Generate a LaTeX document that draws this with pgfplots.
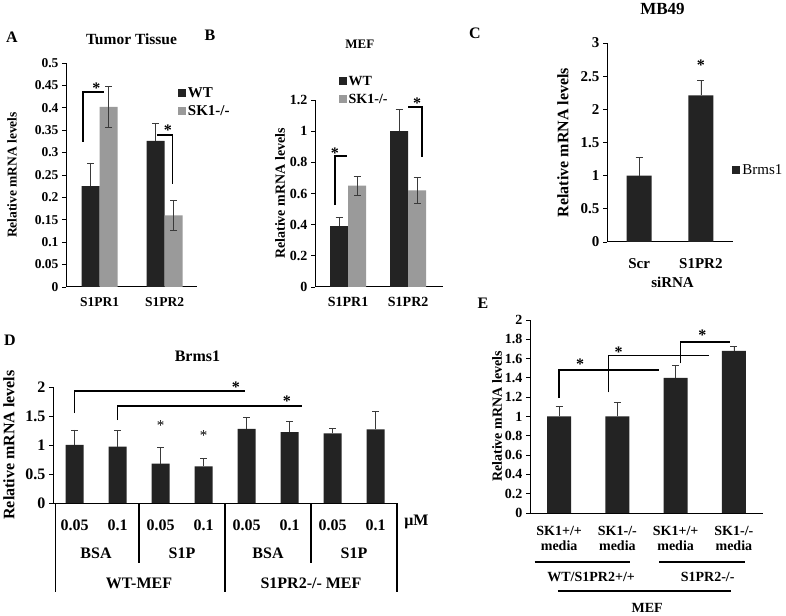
\documentclass[border=0pt]{standalone}
\usepackage{pgfplots}
\pgfplotsset{compat=1.18}
\usepackage{fontspec}
\setmainfont{Liberation Serif}
\definecolor{dk}{HTML}{232323}
\definecolor{gr}{HTML}{9A9A9A}
\definecolor{eb}{HTML}{3A3A3A}
\newcommand\fs[2]{\bfseries\fontsize{#1bp}{#2bp}\selectfont}
\tikzset{br/.style={line width=1.5bp, black},
 st/.style={font=\fs{16}{16}, inner sep=0pt},
 lt/.style={font=\fs{16}{16}, inner sep=0pt}}
\pgfplotsset{
 panel/.style={
  scale only axis, anchor=south west, axis lines=left,
  axis line style={-, line width=1bp, black},
  ymin=0, ybar,
  tick align=outside, major tick length=4bp,
  ytick style={line width=0.8bp, black},
  xtick style={draw=none},
  scaled y ticks=false,
  /pgf/number format/assume math mode=true,
  yticklabel style={/pgf/number format/fixed},
  clip=false,
  legend style={draw=none, fill=none},
  legend cell align=left,
  legend image code/.code={\fill[##1] (0bp,-4bp) rectangle (8bp,4bp);},
 },
 ebars/.style={/pgfplots/error bars/y dir=#1, /pgfplots/error bars/y explicit,
  /pgfplots/error bars/error bar style={line width=0.7bp, eb},
  /pgfplots/error bars/error mark options={rotate=90, eb, mark size=3.5bp, line width=0.7bp}},
}
\begin{document}
\begin{tikzpicture}
\useasboundingbox (0,0) rectangle (786bp,616bp);
\node[lt] at (12bp,579bp) {A};
\node[lt] at (210bp,581bp) {B};
\node[lt] at (475bp,583bp) {C};
\node[lt] at (10bp,276bp) {D};
\node[lt] at (483bp,313bp) {E};

% ---------------- A
\begin{axis}[panel, at={(66bp,329bp)}, width=131bp, height=224bp,
 xmin=-0.52, xmax=1.5, ymax=0.5,
 ytick={0,0.05,0.1,0.15,0.2,0.25,0.3,0.35,0.4,0.45,0.5},
 yticklabel style={/pgf/number format/precision=2},
 xtick={0,1}, xticklabels={S1PR1,S1PR2},
 tick label style={font=\fs{13.5}{15}},
 xticklabel style={yshift=-3bp},
 ylabel={Relative mRNA levels},
 ylabel style={at={([xshift=-54bp]rel axis cs:0,0.5)}, anchor=center, font=\fs{13.5}{15}},
 title={Tumor Tissue},
 title style={at={(rel axis cs:0.5,1)}, anchor=center, yshift=18bp, font=\fs{15.5}{17}},
 legend style={at={(0.83,0.91)}, anchor=north west, font=\fs{15}{17}, row sep=3bp},
]
\addplot[fill=dk, draw=none, bar width=18bp, bar shift=-9bp, ebars=plus]
 coordinates {(0,0.225) +- (0,0.052) (1,0.326) +- (0,0.040)};
\addlegendentry{WT}
\addplot[fill=gr, draw=none, bar width=18bp, bar shift=9bp, ebars=both]
 coordinates {(0,0.402) +- (0,0.046) (1,0.160) +- (0,0.034)};
\addlegendentry{SK1-/-}
\draw[br] (axis cs:-0.26,0.324) |- (axis cs:0.06,0.435);
\node[st] at (axis cs:-0.05,0.444) {*};
\draw[br] (axis cs:0.89,0.339) -| (axis cs:1.12,0.23);
\node[st] at (axis cs:1.05,0.350) {*};
\end{axis}

% ---------------- B
\begin{axis}[panel, at={(315bp,329bp)}, width=128bp, height=187bp,
 xmin=-0.55, xmax=1.58, ymax=1.2,
 ytick={0,0.2,0.4,0.6,0.8,1,1.2},
 yticklabel style={/pgf/number format/precision=1},
 xtick={0,1}, xticklabels={S1PR1,S1PR2},
 tick label style={font=\fs{14}{16}},
 xticklabel style={yshift=-3bp},
 ylabel={Relative mRNA levels},
 ylabel style={at={([xshift=-35bp]rel axis cs:0,0.5)}, anchor=center, font=\fs{14}{16}},
 title={MEF},
 title style={at={(rel axis cs:0.35,1)}, anchor=center, yshift=50bp, font=\fs{13}{15}},
 legend style={at={(0.16,1.15)}, anchor=north west, font=\fs{14}{16}, row sep=3bp},
]
\addplot[fill=dk, draw=none, bar width=18bp, bar shift=-9bp, ebars=plus]
 coordinates {(0,0.39) +- (0,0.06) (1,1.0) +- (0,0.14)};
\addlegendentry{WT}
\addplot[fill=gr, draw=none, bar width=18bp, bar shift=9bp, ebars=both]
 coordinates {(0,0.65) +- (0,0.06) (1,0.62) +- (0,0.083)};
\addlegendentry{SK1-/-}
\draw[br] (axis cs:-0.22,0.526) |- (axis cs:-0.02,0.84);
\node[st] at (axis cs:-0.22,0.86) {*};
\draw[br] (axis cs:1.0,1.155) -| (axis cs:1.23,0.834);
\node[st] at (axis cs:1.15,1.18) {*};
\end{axis}

% ---------------- C
\begin{axis}[panel, at={(607bp,374bp)}, width=126bp, height=199bp,
 xmin=-0.52, xmax=1.52, ymax=3,
 ytick={0,0.5,1,1.5,2,2.5,3},
 yticklabel style={/pgf/number format/precision=1},
 xtick={0,1}, xticklabels={Scr,S1PR2},
 tick label style={font=\fs{15}{17}},
 xticklabel style={yshift=-9bp},
 xlabel={siRNA},
 xlabel style={at={(rel axis cs:0.52,0)}, anchor=center, yshift=-40bp, font=\fs{15}{17}},
 ylabel={Relative mRNA levels},
 ylabel style={at={([xshift=-44bp]rel axis cs:0,0.5)}, anchor=center, font=\fs{16}{18}},
 title={MB49},
 title style={at={(rel axis cs:0.44,1)}, anchor=center, yshift=28bp, font=\fs{17}{19}},
 legend style={at={(0.97,0.36)}, anchor=west, font=\mdseries\fontsize{15bp}{17bp}\selectfont},
]
\addplot[fill=dk, draw=none, bar width=25bp, ebars=plus]
 coordinates {(0,1.0) +- (0,0.27) (1,2.21) +- (0,0.23)};
\addlegendentry{Brms1}
\node[st] at (axis cs:1,2.66) {*};
\end{axis}

% ---------------- D
\begin{axis}[panel, at={(53bp,113bp)}, width=344bp, height=116bp,
 xmin=-0.5, xmax=7.5, ymax=2,
 ytick={0,0.5,1,1.5,2},
 yticklabel style={/pgf/number format/precision=1},
 xtick={0,...,7}, xticklabels={0.05,0.1,0.05,0.1,0.05,0.1,0.05,0.1},
 tick label style={font=\fs{16}{18}},
 xticklabel style={yshift=-9bp},
 ylabel={Relative mRNA levels},
 ylabel style={at={([xshift=-44bp]rel axis cs:0,0.5)}, anchor=center, font=\fs{16}{18}},
 title={Brms1},
 title style={at={(rel axis cs:0.42,1)}, anchor=center, yshift=25bp, font=\fs{16}{18}},
]
\addplot[fill=dk, draw=none, bar width=18bp, ebars=plus]
 coordinates {(0,1.0) +- (0,0.26) (1,0.97) +- (0,0.28) (2,0.68) +- (0,0.28) (3,0.63) +- (0,0.14)
  (4,1.28) +- (0,0.20) (5,1.22) +- (0,0.18) (6,1.20) +- (0,0.09) (7,1.27) +- (0,0.31)};
\draw[br] (axis cs:0,1.55) |- (axis cs:3.96,1.93);
\node[st] at (axis cs:3.75,2.0) {*};
\draw[br] (axis cs:1,1.43) |- (axis cs:5.29,1.67);
\node[st] at (axis cs:4.94,1.76) {*};
\node[font=\fontsize{15bp}{15bp}\selectfont, inner sep=0pt] at (axis cs:2,1.33) {*};
\node[font=\fontsize{15bp}{15bp}\selectfont, inner sep=0pt] at (axis cs:3,1.16) {*};
\draw[line width=1.1bp] (axis cs:-0.45,0) -- ([yshift=-89bp]axis cs:-0.45,0);
\draw[line width=1.1bp] (axis cs:1.5,0) -- ([yshift=-60bp]axis cs:1.5,0);
\draw[line width=1.1bp] (axis cs:3.5,0) -- ([yshift=-89bp]axis cs:3.5,0);
\draw[line width=1.1bp] (axis cs:5.5,0) -- ([yshift=-60bp]axis cs:5.5,0);
\draw[line width=1.1bp] (axis cs:7.5,0) -- ([yshift=-89bp]axis cs:7.5,0);
\node[font=\fs{16}{18}] at ([yshift=-50bp]axis cs:0.5,0) {BSA};
\node[font=\fs{16}{18}] at ([yshift=-50bp]axis cs:2.5,0) {S1P};
\node[font=\fs{16}{18}] at ([yshift=-50bp]axis cs:4.5,0) {BSA};
\node[font=\fs{16}{18}] at ([yshift=-50bp]axis cs:6.5,0) {S1P};
\node[font=\fs{16}{18}] at ([yshift=-80bp]axis cs:1.5,0) {WT-MEF};
\node[font=\fs{16}{18}] at ([yshift=-80bp]axis cs:5.5,0) {S1PR2-/- MEF};
\node[font=\fs{16}{18}] at ([yshift=-19bp]axis cs:7.95,0) {μM};
\end{axis}

% ---------------- E
\begin{axis}[panel, at={(530bp,103bp)}, width=233bp, height=193bp,
 xmin=-0.5, xmax=3.5, ymax=2,
 ytick={0,0.2,0.4,0.6,0.8,1,1.2,1.4,1.6,1.8,2},
 yticklabel style={/pgf/number format/precision=1},
 xtick={0,1,2,3},
 xticklabels={{SK1+/+\\media},{SK1-/-\\media},{SK1+/+\\media},{SK1-/-\\media}},
 tick label style={font=\fs{14}{15}},
 xticklabel style={align=center, yshift=-6bp},
 ylabel={Relative mRNA levels},
 ylabel style={at={([xshift=-33bp]rel axis cs:0,0.5)}, anchor=center, font=\fs{14}{16}},
]
\addplot[fill=dk, draw=none, bar width=24bp, ebars=plus]
 coordinates {(0,1.0) +- (0,0.10) (1,1.0) +- (0,0.15) (2,1.40) +- (0,0.13) (3,1.68) +- (0,0.05)};
\draw[br] (axis cs:0,1.19) |- (axis cs:1.72,1.48);
\node[st] at (axis cs:0.36,1.54) {*};
\draw[br] (axis cs:0.85,1.25) |- (axis cs:2.58,1.63);
\node[st] at (axis cs:1.02,1.67) {*};
\draw[br] (axis cs:2.08,1.55) |- (axis cs:2.93,1.77);
\node[st] at (axis cs:2.46,1.84) {*};
\draw[line width=1.3bp] ([yshift=-49bp]axis cs:-0.42,0) -- ([yshift=-49bp]axis cs:1.21,0);
\draw[line width=1.3bp] ([yshift=-49bp]axis cs:1.72,0) -- ([yshift=-49bp]axis cs:3.19,0);
\draw[line width=1.3bp] ([yshift=-78bp]axis cs:-0.02,0) -- ([yshift=-78bp]axis cs:2.95,0);
\node[font=\fs{14}{16}] at ([yshift=-64bp]axis cs:0.55,0) {WT/S1PR2+/+};
\node[font=\fs{14}{16}] at ([yshift=-64bp]axis cs:2.55,0) {S1PR2-/-};
\node[font=\fs{14}{16}] at ([yshift=-95bp]axis cs:1.51,0) {MEF};
\end{axis}
\end{tikzpicture}
\end{document}
